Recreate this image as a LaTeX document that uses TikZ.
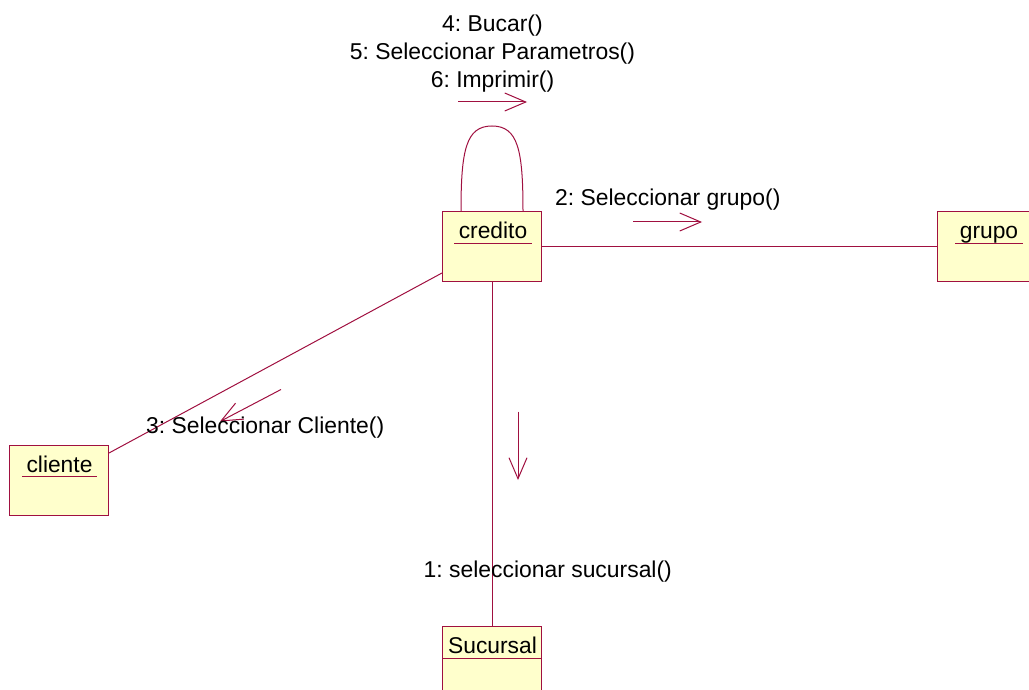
\documentclass[tikz,border=0pt]{standalone}
\usepackage{fontspec}
\setmainfont{Liberation Sans}
\usetikzlibrary{arrows.meta}
\definecolor{rose}{RGB}{160,16,64}
\definecolor{classfill}{RGB}{255,255,204}
\frenchspacing
\begin{document}
\begin{tikzpicture}[x=1pt,y=-1pt,
  classbox/.style={draw=rose, fill=classfill, line width=1pt, rectangle,
    inner sep=0pt, anchor=north west, minimum width=99pt, minimum height=70pt},
  classname/.style={font=\fontsize{22.8}{27}\selectfont, inner sep=0pt, anchor=base},
  uline/.style={draw=rose, line width=1pt},
  link/.style={draw=rose, line width=1pt},
  msg/.style={draw=rose, line width=1pt,
    -{Straight Barb[length=21pt,width=18pt]}},
  msglabel/.style={font=\fontsize{22.9}{27}\selectfont, inner sep=0pt, text=black},
]
\useasboundingbox (0,0) rectangle (1029,690);
\clip (0,0) rectangle (1029,690);

% class boxes
\node[classbox] (credito)  at (442,211) {};
\node[classbox] (grupo)    at (937,211) {};
\node[classbox] (cliente)  at (9,445) {};
\node[classbox] (sucursal) at (442,626) {};

% links
\draw[link] (credito.east) -- (grupo.west);
\draw[link] (credito.south) -- (sucursal.north);
\draw[link] ([yshift=9pt]credito.south west) -- ([yshift=-8pt]cliente.north east);
\coordinate (loopA) at ([xshift=19pt]credito.north west);
\coordinate (loopB) at ([xshift=81pt]credito.north west);
\draw[link] (loopA) .. controls (461,150) and (466,126) .. (492,126)
                    .. controls (518,126) and (523,150) .. (loopB);

% class names, underlined
\node[classname] (creditoname)  at (493,239)   {credito};
\node[classname] (gruponame)    at (989,239)   {grupo};
\node[classname] (clientename)  at (59.5,472)  {cliente};
\node[classname] (sucursalname) at (492.5,653.5) {Sucursal};
\foreach \n in {creditoname,gruponame,clientename,sucursalname}
  \draw[uline] ([xshift=-4.5pt,yshift=-4.5pt]\n.base west) -- ([xshift=4.5pt,yshift=-4.5pt]\n.base east);

% message arrows
\coordinate (m4a) at (458,102);   \coordinate (m4b) at (527,102);
\coordinate (m2a) at (633,222);   \coordinate (m2b) at (702,222);
\coordinate (m3a) at (281,389.5); \coordinate (m3b) at (220,421.5);
\coordinate (m1a) at (518,411.5); \coordinate (m1b) at (518,480);
\draw[msg] (m4a) -- (m4b);
\draw[msg] (m2a) -- (m2b);
\draw[msg] (m3a) -- (m3b);
\draw[msg] (m1a) -- (m1b);

% message labels
\node[msglabel, anchor=base] (l4) at (492.5,31.5) {4: Bucar()};
\node[msglabel, anchor=base] (l5) at (492.5,59.5) {5: Seleccionar Parametros()};
\node[msglabel, anchor=base] (l6) at (492.5,87.5) {6: Imprimir()};
\node[msglabel, anchor=base west] (l2) at (555,205) {2: Seleccionar grupo()};
\node[msglabel, anchor=base west] (l3) at (146,433.5) {3: Seleccionar Cliente()};
\node[msglabel, anchor=base west] (l1) at (423.5,577) {1: seleccionar sucursal()};
\end{tikzpicture}
\end{document}
